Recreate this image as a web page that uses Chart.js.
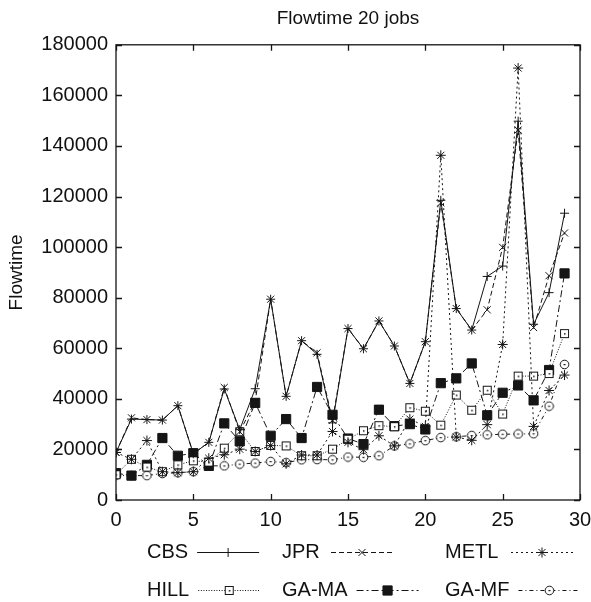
<!DOCTYPE html>
<html>
<head>
<meta charset="utf-8">
<script src="https://cdn.jsdelivr.net/npm/chart.js@4.4.1/dist/chart.umd.min.js"></script>
<style>
  html, body { margin: 0; padding: 0; background: #fff; }
  #wrap { width: 591px; height: 602px; position: relative; }
</style>
</head>
<body>
<div id="wrap"><canvas id="c" width="591" height="602"></canvas></div>
<script>
// ---- data ----
const categories = [0,1,2,3,4,5,6,7,8,9,10,11,12,13,14,15,16,17,18,19,20,21,22,23,24,25,26,27,28,29];
const seriesNames = ['CBS', 'JPR', 'METL', 'HILL', 'GA-MA', 'GA-MF'];
const cbs  = [18800,32000,31800,31600,37300,18300,22800,43900,27800,44000,79400,41000,63000,57600,30500,67800,59800,70800,60900,46100,62600,118500,75700,67200,88400,92500,149800,69500,82000,113400];
const jpr  = [18800,32500,31800,31600,37300,18300,22800,44500,27000,39000,79400,41000,63000,58200,31500,67800,59800,70800,60900,46100,62600,117500,75700,67200,75200,99900,146300,68200,88700,105600];
const metl = [18800,16100,23500,11200,10800,11200,16500,17900,20100,19200,21500,14300,17800,17800,27100,22800,19900,25400,21400,32000,29100,136300,24900,23600,29800,61500,170800,29100,43300,49400];
const hill = [10000,16100,13000,11200,13900,15500,15000,20500,27000,19200,21600,21400,17500,17500,20100,24000,27400,29400,29000,36500,35100,29600,41500,35500,43400,34000,49000,49000,50000,65800];
const gama = [10600,9650,13900,24500,17500,18500,13500,30300,23200,38400,25400,32000,24500,44700,33700,24300,22100,35700,29200,30000,27900,46200,48100,54000,33500,42400,45300,39400,51400,89600];
const gamf = [9800,9650,9650,10500,10800,11200,13500,13500,14200,14600,15200,14800,15900,16000,15900,17000,16900,17500,21400,22200,23500,24700,25000,25500,25800,26000,26100,26200,37100,53600];
const xTickValues = [0,5,10,15,20,25,30];
const yTickValues = [0,20000,40000,60000,80000,100000,120000,140000,160000,180000];
const titleText = 'Flowtime 20 jobs';
const yAxisTitle = 'Flowtime';

// ---- custom markers ----
const INK = '#151515';
function makeBoxDot() {
  const c = document.createElement('canvas'); c.width = 11; c.height = 11;
  const g = c.getContext('2d');
  g.fillStyle = '#fff'; g.fillRect(1, 1, 9, 9);
  g.strokeStyle = INK; g.lineWidth = 1; g.strokeRect(1.5, 1.5, 8, 8);
  g.fillStyle = INK; g.fillRect(5, 5, 1.5, 1.5);
  return c;
}
function makeCircleDot() {
  const c = document.createElement('canvas'); c.width = 11; c.height = 11;
  const g = c.getContext('2d');
  g.fillStyle = '#fff'; g.beginPath(); g.arc(5.5, 5.5, 4.3, 0, Math.PI * 2); g.fill();
  g.strokeStyle = INK; g.lineWidth = 1; g.stroke();
  g.fillStyle = INK; g.fillRect(4.5, 5, 2, 1.2);
  return c;
}
const boxDot = makeBoxDot();
const circleDot = makeCircleDot();

function pts(arr) { return categories.map((c, i) => ({ x: c, y: arr[i] })); }

const styles = [
  { dash: [],            point: 'cross',    r: 4.5, bg: INK },
  { dash: [5, 3],        point: 'crossRot', r: 5,   bg: INK },
  { dash: [2, 3],        point: 'star',     r: 5,   bg: INK },
  { dash: [1, 1.6],      point: boxDot,     r: 5,   bg: '#fff' },
  { dash: [7, 3, 2, 3],  point: 'rect',     r: 6.5, bg: INK },
  { dash: [4, 3, 1, 3],  point: circleDot,  r: 5,   bg: '#fff' }
];
const allSeries = [cbs, jpr, metl, hill, gama, gamf];

const datasets = allSeries.map((arr, i) => ({
  label: seriesNames[i],
  data: pts(arr),
  borderColor: INK,
  borderWidth: 1,
  borderDash: styles[i].dash,
  pointStyle: styles[i].point,
  pointRadius: styles[i].r,
  pointHoverRadius: styles[i].r,
  pointBorderColor: INK,
  pointBackgroundColor: styles[i].bg,
  pointBorderWidth: 1,
  tension: 0,
  fill: false
}));

const frameTicks = {
  id: 'frameTicks',
  afterDatasetsDraw(chart) {
    const { ctx, chartArea: a, scales } = chart;
    ctx.save();
    ctx.strokeStyle = INK; ctx.lineWidth = 1.3; ctx.setLineDash([]);
    ctx.strokeRect(a.left, a.top, a.right - a.left, a.bottom - a.top);
    const L = 6;
    ctx.beginPath();
    xTickValues.forEach(v => {
      const x = Math.round(scales.x.getPixelForValue(v)) + 0.5;
      ctx.moveTo(x, a.bottom); ctx.lineTo(x, a.bottom - L);
      ctx.moveTo(x, a.top); ctx.lineTo(x, a.top + L);
    });
    yTickValues.forEach(v => {
      const y = Math.round(scales.y.getPixelForValue(v)) + 0.5;
      ctx.moveTo(a.left, y); ctx.lineTo(a.left + L, y);
      ctx.moveTo(a.right, y); ctx.lineTo(a.right - L, y);
    });
    ctx.stroke();
    ctx.restore();
  }
};

const customLegend = {
  id: 'customLegend',
  afterDraw(chart) {
    const { ctx } = chart;
    const rows = [552, 590];
    const cols = [147, 282, 445];
    const minLine = [197, 331, 511];
    ctx.save();
    ctx.font = '20px "Liberation Sans", Arial, sans-serif';
    ctx.textBaseline = 'middle';
    ctx.textAlign = 'left';
    chart.data.datasets.forEach((ds, i) => {
      const row = Math.floor(i / 3), col = i % 3;
      const y = rows[row];
      const tx = cols[col];
      ctx.fillStyle = '#111';
      ctx.fillText(ds.label, tx, y);
      const w = ctx.measureText(ds.label).width;
      const lx = Math.max(tx + w + 9, minLine[col]);
      const len = 62;
      ctx.strokeStyle = INK; ctx.lineWidth = 1;
      ctx.setLineDash(ds.borderDash || []);
      ctx.beginPath(); ctx.moveTo(lx, y + 0.5); ctx.lineTo(lx + len, y + 0.5); ctx.stroke();
      ctx.setLineDash([]);
      ctx.fillStyle = ds.pointBackgroundColor; ctx.strokeStyle = INK; ctx.lineWidth = 1;
      Chart.helpers.drawPoint(ctx, {
        pointStyle: ds.pointStyle, radius: ds.pointRadius, rotation: 0, borderWidth: 1
      }, lx + len / 2, y + 0.5);
    });
    ctx.restore();
  }
};

const FONT = '"Liberation Sans", Arial, sans-serif';

new Chart(document.getElementById('c'), {
  type: 'line',
  data: { datasets },
  options: {
    responsive: false,
    animation: false,
    events: [],
    layout: { padding: { left: 0, right: 0, top: 0, bottom: 62 } },
    plugins: {
      legend: { display: false },
      tooltip: { enabled: false },
      title: {
        display: true, text: titleText, color: '#111', fullSize: false,
        font: { family: FONT, size: 19, weight: 'normal' },
        padding: { top: 7, bottom: 15 }
      }
    },
    scales: {
      x: {
        type: 'linear', min: 0, max: 30,
        grid: { display: false, drawTicks: false }, border: { display: false },
        ticks: { stepSize: 5, color: '#111', padding: 8, maxRotation: 0,
                 font: { family: FONT, size: 20 } },
        afterFit(s) { s.height = 40; s.paddingRight = 11; s.paddingLeft = 0; }
      },
      y: {
        type: 'linear', min: 0, max: 180000,
        grid: { display: false, drawTicks: false }, border: { display: false },
        ticks: { stepSize: 20000, color: '#111', padding: 8,
                 font: { family: FONT, size: 20 },
                 callback: (v) => String(v) },
        title: { display: true, text: yAxisTitle, color: '#111',
                 font: { family: FONT, size: 19 }, padding: { top: 5, bottom: 0 } },
        afterFit(s) { s.width = 116; }
      }
    }
  },
  plugins: [frameTicks, customLegend]
});
</script>
</body>
</html>
